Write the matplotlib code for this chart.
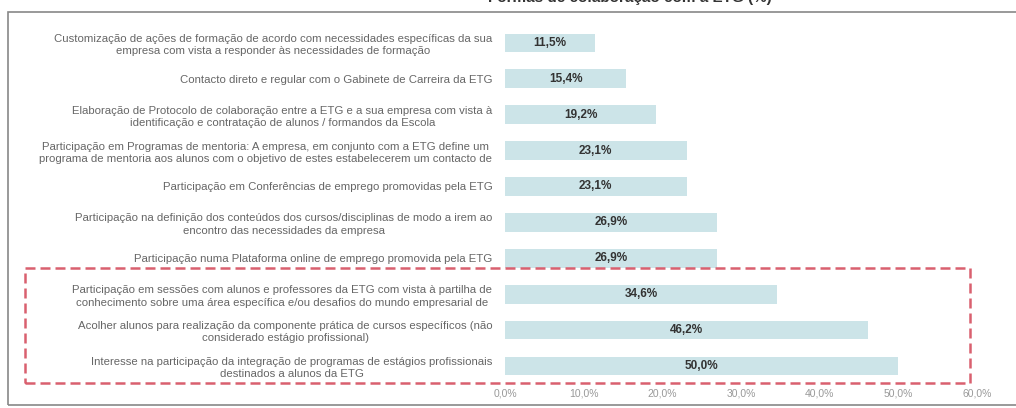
import matplotlib
matplotlib.use("Agg")
import matplotlib.pyplot as plt
from matplotlib.patches import Rectangle

plt.rcParams['font.family'] = ['Liberation Sans', 'DejaVu Sans']

categories = [
    "Customização de ações de formação de acordo com necessidades específicas da sua\nempresa com vista a responder às necessidades de formação",
    "Contacto direto e regular com o Gabinete de Carreira da ETG",
    "Elaboração de Protocolo de colaboração entre a ETG e a sua empresa com vista à\nidentificação e contratação de alunos / formandos da Escola",
    "Participação em Programas de mentoria: A empresa, em conjunto com a ETG define um\nprograma de mentoria aos alunos com o objetivo de estes estabelecerem um contacto de",
    "Participação em Conferências de emprego promovidas pela ETG",
    "Participação na definição dos conteúdos dos cursos/disciplinas de modo a irem ao\nencontro das necessidades da empresa",
    "Participação numa Plataforma online de emprego promovida pela ETG",
    "Participação em sessões com alunos e professores da ETG com vista à partilha de\nconhecimento sobre uma área específica e/ou desafios do mundo empresarial de",
    "Acolher alunos para realização da componente prática de cursos específicos (não\nconsiderado estágio profissional)",
    "Interesse na participação da integração de programas de estágios profissionais\ndestinados a alunos da ETG",
]
values = [11.5, 15.4, 19.2, 23.1, 23.1, 26.9, 26.9, 34.6, 46.2, 50.0]
xticks = [0, 10, 20, 30, 40, 50, 60]
xtick_labels = ["0,0%", "10,0%", "20,0%", "30,0%", "40,0%", "50,0%", "60,0%"]

fig = plt.figure(figsize=(10.16, 4.08), dpi=100)
ax = fig.add_axes([0.497, 0.059, 0.4645, 0.88])

ypos = list(range(len(values)))
ax.barh(ypos, values, height=0.52, color="#cce4e8")
for y, v in zip(ypos, values):
    ax.text(v / 2, y, f"{v:.1f}%".replace(".", ","), ha="center", va="center",
            fontsize=8.5, fontweight="bold", color="#333333")

ax.set_xlim(0, 60)
ax.set_ylim(len(values) - 0.5, -0.5)
ax.set_yticks(ypos)
ax.set_yticklabels(categories, fontsize=8.2, color="#666666", multialignment="center",
                   linespacing=1.3)
ax.set_xticks(xticks)
ax.set_xticklabels(xtick_labels, fontsize=7.5, color="#999999")
ax.tick_params(length=0)
ax.tick_params(axis="y", pad=9)
for s in ax.spines.values():
    s.set_visible(False)

# outer frame
fig.patches.append(Rectangle((8 / 1016, 3 / 408), 1.0, 1 - 15 / 408, transform=fig.transFigure,
                             fill=False, edgecolor="#888888", linewidth=1.2))
# red dashed highlight around last three rows
fig.patches.append(Rectangle((25 / 1016, 1 - 383 / 408), 945 / 1016, 115 / 408,
                             transform=fig.transFigure, fill=False, edgecolor="#d9606f",
                             linewidth=1.8, linestyle=(0, (4, 2))))

# title sits mostly above the visible area, as in the reference
fig.text(0.62, 1.005, "Formas de colaboração com a ETG (%)", ha="center", va="center",
         fontsize=11, fontweight="bold", color="#333333")

fig.savefig("out.png", dpi=100)
